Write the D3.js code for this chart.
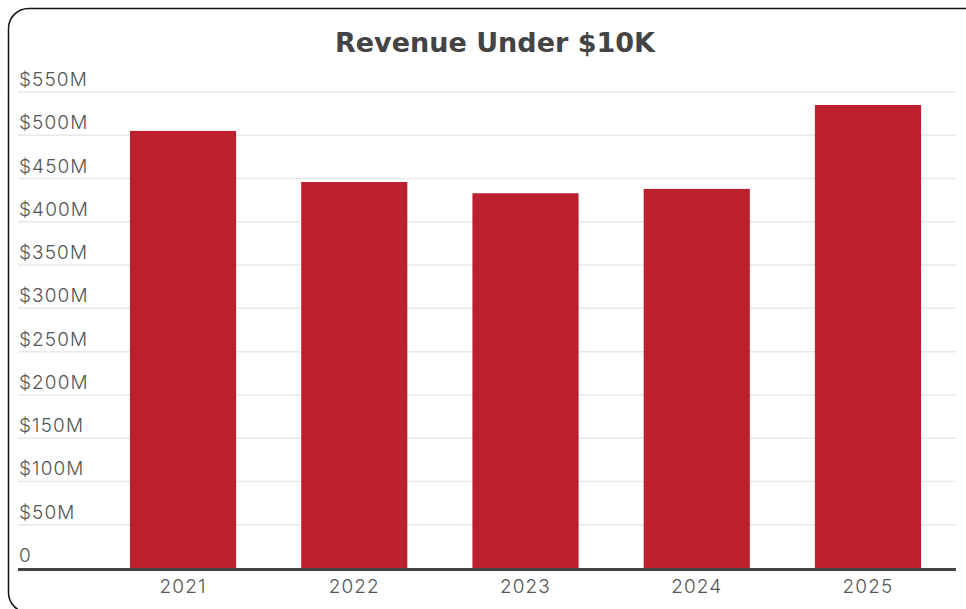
<!DOCTYPE html>
<html>
<head>
<meta charset="utf-8">
<script src="https://cdn.jsdelivr.net/npm/d3@7/dist/d3.min.js"></script>
<style>
  html, body { margin: 0; padding: 0; background: #fff; }
  svg { display: block; }
  text { font-family: "Inter", "Open Sans", sans-serif; }
  .title { font-family: "DejaVu Sans", sans-serif; }
</style>
</head>
<body>
<div id="chart"></div>
<script>
// Revenue from deals under $10K, by year (millions of dollars)
const years = ["2021", "2022", "2023", "2024", "2025"];
const revenue = [505, 446, 433, 438, 535];
const yTicks = [0, 50, 100, 150, 200, 250, 300, 350, 400, 450, 500, 550];
const title = "Revenue Under $10K";

const W = 966, H = 609;
const svg = d3.select("#chart").append("svg")
  .attr("width", W).attr("height", H);

// rounded card frame
svg.append("rect")
  .attr("x", 8.5).attr("y", 8.5)
  .attr("width", 1000).attr("height", 604)
  .attr("rx", 20).attr("ry", 20)
  .attr("fill", "#fff")
  .attr("stroke", "#111").attr("stroke-width", 1.5);

const plotLeft = 18, plotRight = 956;
const y = d3.scaleLinear().domain([0, 550]).range([568, 92]);
const x = d3.scaleBand().domain(years)
  .range([97.4, 953.6]).paddingInner(0.38).paddingOuter(0.19);

// horizontal gridlines
svg.append("g").selectAll("line")
  .data(yTicks.filter(d => d > 0))
  .join("line")
  .attr("x1", plotLeft).attr("x2", plotRight)
  .attr("y1", d => y(d)).attr("y2", d => y(d))
  .attr("stroke", "#e8e8e8").attr("stroke-width", 1.5);

// y labels sit just above their gridline
const fmt = d => d === 0 ? "0" : "$" + d + "M";
svg.append("g").selectAll("text")
  .data(yTicks)
  .join("text")
  .attr("x", 19).attr("y", d => y(d) - 6)
  .attr("fill", "#555").attr("font-size", 19)
  .attr("font-weight", 300).attr("letter-spacing", 1.1)
  .text(fmt);

// bars
svg.append("g").selectAll("rect")
  .data(years.map((yr, i) => ({ yr, v: revenue[i] })))
  .join("rect")
  .attr("x", d => x(d.yr))
  .attr("width", x.bandwidth())
  .attr("y", d => y(d.v))
  .attr("height", d => y(0) - y(d.v))
  .attr("fill", "#bc202e");

// baseline
svg.append("line")
  .attr("x1", plotLeft).attr("x2", plotRight)
  .attr("y1", y(0) + 1.5).attr("y2", y(0) + 1.5)
  .attr("stroke", "#444").attr("stroke-width", 3);

// x labels
svg.append("g").selectAll("text")
  .data(years)
  .join("text")
  .attr("x", d => x(d) + x.bandwidth() / 2)
  .attr("y", 593)
  .attr("text-anchor", "middle")
  .attr("fill", "#555").attr("font-size", 19)
  .attr("font-weight", 300).attr("letter-spacing", 1.1)
  .text(d => d);

// title
svg.append("text")
  .attr("class", "title")
  .attr("x", 495).attr("y", 52)
  .attr("text-anchor", "middle")
  .attr("fill", "#444").attr("font-size", 27).attr("font-weight", 700)
  .text(title);
</script>
</body>
</html>
